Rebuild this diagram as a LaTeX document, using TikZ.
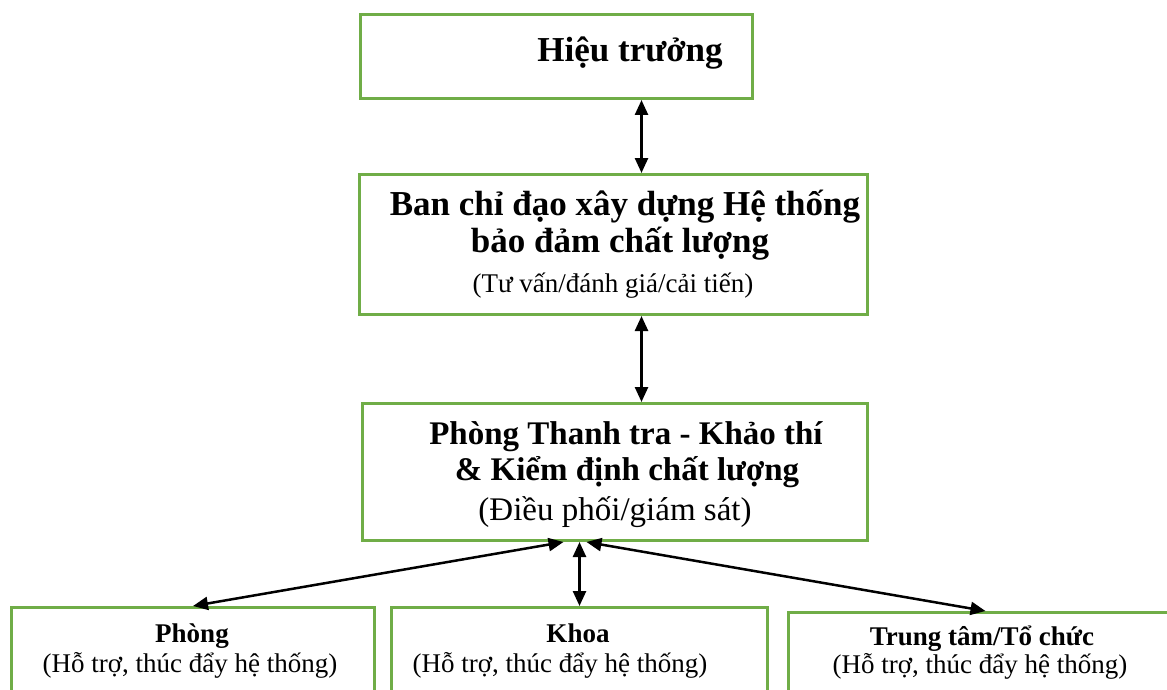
\documentclass[tikz,border=0pt]{standalone}
\usepackage{fontspec}
\setmainfont{Liberation Serif}
\usetikzlibrary{arrows.meta}
\definecolor{boxgreen}{RGB}{112,173,71}

\begin{document}
\begin{tikzpicture}[x=1pt,y=-1pt,
    unitbox/.style={draw=boxgreen,line width=3pt,inner sep=0pt,anchor=north west},
    bigtitle/.style={anchor=base,inner sep=0pt,font=\fontsize{35}{37}\selectfont\bfseries},
    midtitle/.style={anchor=base,inner sep=0pt,font=\fontsize{33}{35}\selectfont\bfseries},
    midnote/.style={anchor=base,inner sep=0pt,font=\fontsize{33}{35}\selectfont},
    smalltitle/.style={anchor=base,inner sep=0pt,font=\fontsize{27}{29}\selectfont\bfseries},
    smallnote/.style={anchor=base,inner sep=0pt,font=\fontsize{27}{29}\selectfont},
    link/.style={{Triangle[length=15pt,width=13pt]}-{Triangle[length=15pt,width=13pt]},line width=2.5pt}]
    \useasboundingbox (0,0) rectangle (1167,690);
    \clip (0,0) rectangle (1167,690);
    % boxes
    \node[unitbox,minimum width=392pt,minimum height=84pt] (hieu) at (359,13) {};
    \node[unitbox,minimum width=508pt,minimum height=140pt] (ban) at (358,173) {};
    \node[unitbox,minimum width=505pt,minimum height=137pt] (ttra) at (361,402) {};
    \node[unitbox,minimum width=363pt,minimum height=110pt] (phong) at (10,606) {};
    \node[unitbox,minimum width=376pt,minimum height=110pt] (khoa) at (390,606) {};
    \node[unitbox,minimum width=388pt,minimum height=110pt] (trung) at (787,611) {};
    % texts
    \node[bigtitle] (h1) at (630,62) {Hiệu trưởng};
    \node[bigtitle] (b1) at (625,215) {Ban chỉ đạo xây dựng Hệ thống};
    \node[bigtitle] (b2) at (620,252) {bảo đảm chất lượng};
    \node[smallnote] (b3) at (613,292) {(Tư vấn/đánh giá/cải tiến)};
    \node[midtitle] (t1) at (626,444) {Phòng Thanh tra - Khảo thí};
    \node[midtitle] (t2) at (627,480) {\& Kiểm định chất lượng};
    \node[midnote] (t3) at (615,520) {(Điều phối/giám sát)};
    \node[smalltitle] (p1) at (192,642) {Phòng};
    \node[smallnote] (p2) at (190,672) {(Hỗ trợ, thúc đẩy hệ thống)};
    \node[smalltitle] (k1) at (578,642) {Khoa};
    \node[smallnote] (k2) at (560,672) {(Hỗ trợ, thúc đẩy hệ thống)};
    \node[smalltitle] (c1) at (982,645) {Trung tâm/Tổ chức};
    \node[smallnote] (c2) at (980,673) {(Hỗ trợ, thúc đẩy hệ thống)};
    % links
    \draw[link] ([xshift=85pt]hieu.south) -- ([xshift=28pt]ban.north);
    \draw[link] ([xshift=28pt]ban.south) -- ([xshift=26.5pt]ttra.north);
    \draw[link] ([xshift=-51.5pt]ttra.south) -- (phong.north);
    \draw[link] ([xshift=-35.5pt]ttra.south) -- (khoa.north);
    \draw[link] ([xshift=-28.5pt]ttra.south) -- ([xshift=3pt]trung.north);
\end{tikzpicture}
\end{document}
